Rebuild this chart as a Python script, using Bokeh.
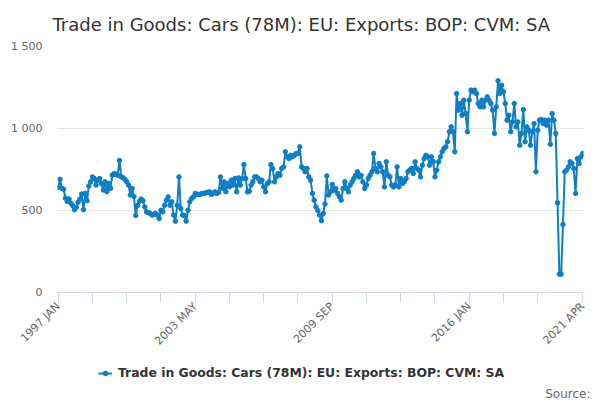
import math
from bokeh.plotting import figure
from bokeh.layouts import column
from bokeh.models import FixedTicker, Legend, LegendItem, Title, Range1d, ColumnDataSource
from bokeh.embed import file_html
from bokeh.resources import INLINE

title_text = "Trade in Goods: Cars (78M): EU: Exports: BOP: CVM: SA"
series_name = "Trade in Goods: Cars (78M): EU: Exports: BOP: CVM: SA"
source_text = "Source:"
MONTHS = ["JAN", "FEB", "MAR", "APR", "MAY", "JUN", "JUL", "AUG", "SEP", "OCT", "NOV", "DEC"]
first_year = 1997

exports_1997_2000 = [640, 690, 635, 630, 575, 555, 570, 545, 530, 505, 520, 550,
                     570, 600, 505, 605, 560, 650, 675, 705, 695, 655, 685, 695,
                     665, 625, 675, 615, 665, 635, 715, 725, 720, 715, 805, 705,
                     700, 690, 675, 655, 595, 635, 585, 470, 530, 555, 570, 560]
exports_2001_2004 = [522, 492, 487, 482, 472, 477, 482, 472, 451, 502, 492, 532,
                     563, 583, 532, 553, 472, 435, 532, 705, 512, 472, 470, 435,
                     502, 553, 573, 583, 604, 598, 598, 600, 604, 604, 608, 610,
                     614, 598, 605, 614, 604, 610, 705, 634, 675, 614, 665, 645]
exports_2005_2008 = [685, 655, 695, 614, 699, 655, 695, 780, 695, 614, 618, 655,
                     675, 705, 705, 695, 675, 685, 644, 614, 665, 675, 780, 756,
                     675, 705, 726, 715, 756, 766, 858, 827, 817, 837, 827, 837,
                     848, 848, 888, 766, 756, 736, 756, 705, 685, 604, 563, 522]
exports_2009_2012 = [500, 472, 438, 482, 540, 711, 594, 614, 659, 624, 634, 604,
                     583, 563, 634, 675, 634, 614, 655, 675, 695, 715, 736, 705,
                     715, 675, 634, 655, 695, 715, 736, 848, 756, 736, 787, 766,
                     736, 644, 797, 715, 705, 655, 644, 655, 766, 644, 695, 665]
exports_2013_2016 = [675, 695, 736, 746, 756, 726, 797, 756, 746, 705, 776, 817,
                     837, 827, 776, 827, 797, 705, 746, 797, 827, 858, 878, 888,
                     919, 980, 1010, 980, 858, 1213, 1112, 1152, 1081, 1173, 1091, 980,
                     1173, 1234, 1224, 1234, 1213, 1152, 1132, 1173, 1132, 1173, 1193, 1173]
exports_2017_2021 = [1152, 1112, 970, 1132, 1291, 1213, 1264, 1224, 1152, 1051, 1081, 980,
                     1040, 1152, 1010, 1040, 898, 970, 1116, 919, 1010, 990, 898, 980,
                     1030, 736, 990, 1051, 1055, 1030, 1051, 1020, 1051, 904, 1091, 1051,
                     970, 547, 112, 112, 414, 736, 746, 766, 797, 787, 756, 604,
                     817, 787, 827, 848]

x_tick_labels = ["1997 JAN", "2003 MAY", "2009 SEP", "2016 JAN", "2021 APR"]
minor_step_months = 19
y_tick_values = [0, 500, 1000, 1500]
y_tick_labels = ["0", "500", "1 000", "1 500"]

values = (exports_1997_2000 + exports_2001_2004 + exports_2005_2008 +
          exports_2009_2012 + exports_2013_2016 + exports_2017_2021)
idx = list(range(len(values)))
month_labels = [f"{first_year + i // 12} {MONTHS[i % 12]}" for i in idx]

def label_to_index(lbl):
    y, m = lbl.split()
    return (int(y) - first_year) * 12 + MONTHS.index(m)

major_idx = [label_to_index(l) for l in x_tick_labels]
minor_idx = [i for i in range(0, major_idx[-1] - minor_step_months // 2, minor_step_months)
             if i not in major_idx]

BLUE = "#0f7ec3"
FONT = "DejaVu Sans"

src = ColumnDataSource(dict(x=idx, y=values, label=month_labels))

# ---- main chart ----
p = figure(width=600, height=356, output_backend="svg", toolbar_location=None,
           x_range=Range1d(-0.4, len(values) - 1 + 0.4), y_range=Range1d(0, 1500),
           min_border_left=57, min_border_right=17, min_border_top=46, min_border_bottom=64)
p.outline_line_color = None
p.background_fill_color = "white"
p.border_fill_color = "white"

p.title.text = title_text
p.title.align = "left"
p.title.offset = -5
p.title.standoff = 23
p.title.text_font = FONT
p.title.text_font_size = "18px"
p.title.text_font_style = "normal"
p.title.text_color = "#333333"

p.line("x", "y", source=src, line_color=BLUE, line_width=2)
p.scatter("x", "y", source=src, size=4.5, fill_color=BLUE, line_color=BLUE)

p.xgrid.grid_line_color = None
p.ygrid.grid_line_color = "#e6e6e6"
p.ygrid.ticker = FixedTicker(ticks=y_tick_values)

xa = p.xaxis[0]
xa.ticker = FixedTicker(ticks=major_idx, minor_ticks=minor_idx)
xa.major_label_overrides = {i: l for i, l in zip(major_idx, x_tick_labels)}
xa.major_label_orientation = math.pi / 4
xa.axis_line_color = "#ccd6eb"
xa.major_tick_line_color = "#ccd6eb"
xa.minor_tick_line_color = "#ccd6eb"
xa.major_tick_out = 10
xa.major_tick_in = 0
xa.minor_tick_out = 10
xa.minor_tick_in = 0
xa.major_label_text_font = FONT
xa.major_label_text_font_size = "11px"
xa.major_label_text_color = "#666666"
xa.major_label_standoff = 2

ya = p.yaxis[0]
ya.ticker = FixedTicker(ticks=y_tick_values)
ya.major_label_overrides = {v: l for v, l in zip(y_tick_values, y_tick_labels)}
ya.axis_line_color = None
ya.major_tick_line_color = None
ya.minor_tick_line_color = None
ya.major_label_text_font = FONT
ya.major_label_text_font_size = "11px"
ya.major_label_text_color = "#666666"
ya.major_label_standoff = 9

# ---- legend + source strip (same series, ranges keep its marks out of view) ----
p2 = figure(width=600, height=44, output_backend="svg", toolbar_location=None,
            x_range=Range1d(0, 1), y_range=Range1d(5000, 5001),
            x_axis_type=None, y_axis_type=None, min_border=0)
p2.outline_line_color = None
p2.background_fill_color = "white"
p2.border_fill_color = "white"
kl = p2.line("x", "y", source=src, line_color=BLUE, line_width=2)
ks = p2.scatter("x", "y", source=src, size=4.5, fill_color=BLUE, line_color=BLUE)

legend = Legend(items=[LegendItem(label=series_name, renderers=[kl, ks])],
                orientation="horizontal", location=(38, 1),
                border_line_alpha=0, background_fill_alpha=0,
                label_text_font=FONT, label_text_font_style="bold",
                label_text_font_size="12.4px", label_text_color="#333333",
                glyph_width=14, glyph_height=12, label_standoff=6,
                padding=3, margin=0)
p2.add_layout(legend)

src_title = Title(text=source_text, align="right", offset=-7, standoff=0,
                  text_font=FONT, text_font_size="12px", text_font_style="normal",
                  text_color="#666666")
p2.add_layout(src_title, "below")

layout = column(p, p2, spacing=0)
open("out.html", "w").write(file_html(layout, INLINE))
